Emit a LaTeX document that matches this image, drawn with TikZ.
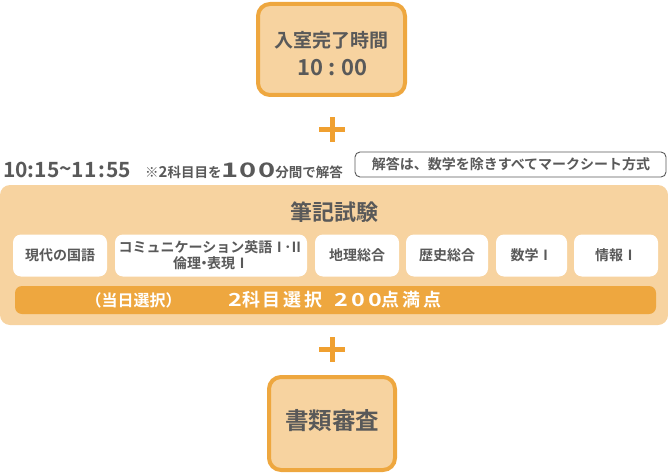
\documentclass[tikz,border=0pt]{standalone}
\usepackage{fontspec}
\setmainfont{Noto Sans CJK JP}[BoldFont={Noto Sans CJK JP Bold}]
\definecolor{lightor}{HTML}{F7D3A0}
\definecolor{orange1}{HTML}{EEA73F}
\definecolor{plusor}{HTML}{F0A030}
\definecolor{txt}{HTML}{595959}
\tikzset{
  bigbox/.style={draw=orange1, line width=4pt, fill=lightor, rounded corners=12pt, inner sep=0pt},
  subj/.style={fill=white, rounded corners=8pt, inner sep=0pt, minimum height=42pt, text=txt, font=\bfseries\fontsize{14}{17}\selectfont, align=center},
  plusbar/.style={draw=plusor, line width=5pt},
  txtstyle/.style={text=txt, inner sep=0pt}
}
\begin{document}
\begin{tikzpicture}[x=1pt,y=-1pt]
\useasboundingbox (0,0) rectangle (668,473);
% top box
\node[bigbox, minimum width=147pt, minimum height=91pt] (entry) at (331.5,49.5) {};
\node[txtstyle, font=\bfseries\fontsize{19}{22}\selectfont] (entryt) at (331.5,40) {入室完了時間};
\node[txtstyle, font=\bfseries\fontsize{22}{24}\selectfont] (entryn) at (332.5,68) {10\hspace{5pt}:\hspace{5pt}00};
% plus 1
\coordinate (p1) at (332,129.5);
\draw[plusbar] ([xshift=-13pt]p1) -- ([xshift=13pt]p1);
\draw[plusbar] ([yshift=-12.5pt]p1) -- ([yshift=12.5pt]p1);
% time line
\node[txtstyle, anchor=west, font=\bfseries\fontsize{21}{22}\selectfont] (time) at (3,170) {10:15\raisebox{0.1ex}{\textasciitilde}11\hspace{1.5pt}:\hspace{1.5pt}55};
\node[txtstyle, anchor=west, font=\bfseries\fontsize{13.5}{16}\selectfont] (note1) at (145,171) {※{\fontsize{15}{16}\selectfont 2}科目目を{\fontsize{20}{20}\selectfont\addfontfeature{FakeStretch=1.45,LetterSpace=6}100}分間で解答};
\node[draw=txt, line width=0.9pt, fill=white, rounded corners=5pt, minimum width=311pt, minimum height=25pt, inner sep=0pt] (note2) at (510.5,164.5) {};
\node[txtstyle, font=\bfseries\fontsize{14}{16}\selectfont] (note2t) at (511,164.5) {解答は、数学を除きすべてマークシート方式};
% panel
\node[fill=lightor, rounded corners=10pt, minimum width=668pt, minimum height=140pt, inner sep=0pt] (panel) at (334,255) {};
\node[txtstyle, font=\bfseries\fontsize{22}{24}\selectfont] (title) at (334,212) {筆記試験};
% subjects
\node[subj, minimum width=94pt] (s1) at (60,255.5) {現代の国語};
\node[subj, minimum width=192pt] (s2) at (211,255.5) {コミュニケーション英語Ⅰ{\kern-2pt}･{\kern-2pt}Ⅱ\\[-1pt]倫理{\kern-4pt}・{\kern-4pt}表現Ⅰ};
\node[subj, minimum width=84pt] (s3) at (357,255.5) {地理総合};
\node[subj, minimum width=82pt] (s4) at (447,255.5) {歴史総合};
\node[subj, minimum width=71pt] (s5) at (531.5,255.5) {数学Ⅰ};
\node[subj, minimum width=84pt] (s6) at (616,255.5) {情報Ⅰ};
% orange bar
\node[fill=orange1, rounded corners=7pt, minimum width=641pt, minimum height=28pt, inner sep=0pt] (bar) at (335.5,300) {};
\node[inner sep=0pt, text=white, font=\bfseries\fontsize{16}{18}\selectfont] (bar1) at (133.5,300) {（当日選択）};
\node[inner sep=0pt, text=white, font=\bfseries\fontsize{18}{20}\selectfont\addfontfeature{LetterSpace=16}, anchor=west] (bar2) at (228,300) {{\addfontfeature{FakeStretch=1.3}2}科目選択\hspace{12pt}{\addfontfeature{FakeStretch=1.3}200}点満点};
% plus 2
\coordinate (p2) at (332,349);
\draw[plusbar] ([xshift=-13pt]p2) -- ([xshift=13pt]p2);
\draw[plusbar] ([yshift=-12.5pt]p2) -- ([yshift=12.5pt]p2);
% bottom box
\node[bigbox, minimum width=126pt, minimum height=93pt] (docs) at (332,423.5) {};
\node[txtstyle, font=\bfseries\fontsize{23.5}{26}\selectfont] (docst) at (332,421) {書類審査};
\end{tikzpicture}
\end{document}
